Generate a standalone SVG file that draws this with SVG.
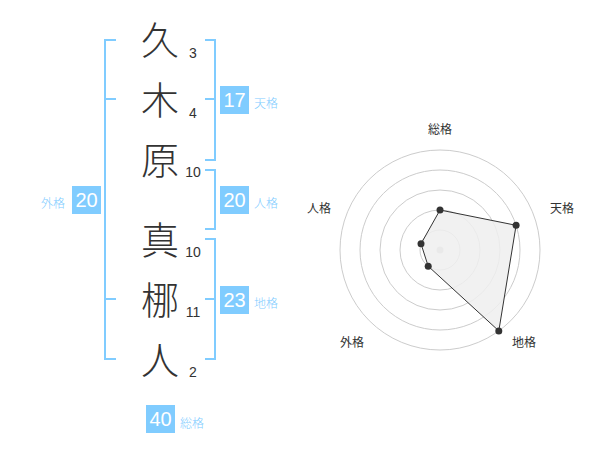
<svg xmlns="http://www.w3.org/2000/svg" width="600" height="470" viewBox="0 0 600 470">
<style>
.ch{font-family:"Noto Sans CJK JP",sans-serif;font-size:38px;font-weight:300;fill:#333;text-anchor:middle}
.st{font-family:"Liberation Sans",Arial,sans-serif;font-size:14px;fill:#333;text-anchor:middle}
.br{fill:none;stroke:#80ccff;stroke-width:2}
.box{fill:#80ccff}
.bn{font-family:"Liberation Sans",Arial,sans-serif;font-size:20px;fill:#fff;text-anchor:middle}
.bl{font-family:"Noto Sans CJK JP",sans-serif;font-size:12px;font-weight:300;fill:#80ccff}
.rl{font-family:"Noto Sans CJK JP",sans-serif;font-size:12px;fill:#333;text-anchor:middle}
.ring{fill:none;stroke:#cccccc;stroke-width:1}
.pt{fill:#333}
</style>
<rect width="600" height="470" fill="#fff"/>
<g id="chars">
<g id="c1"><text class="ch" x="160" y="54">久</text><text class="st" x="193" y="58">3</text></g>
<g id="c2"><text class="ch" x="160" y="114">木</text><text class="st" x="193" y="118">4</text></g>
<g id="c3"><text class="ch" x="160" y="174">原</text><text class="st" x="193" y="177">10</text></g>
<g id="c4"><text class="ch" x="160" y="254">真</text><text class="st" x="193" y="257">10</text></g>
<g id="c5"><text class="ch" x="160" y="314">梛</text><text class="st" x="193" y="317">11</text></g>
<g id="c6"><text class="ch" x="160" y="374">人</text><text class="st" x="193" y="377">2</text></g>
</g>
<g id="connectors">
<path class="br" d="M116,40H105V359H116M105,99H116M105,299H116"/>
<path class="br" d="M205,40H215V160H205M215,99H205"/>
<path class="br" d="M205,170H215V229H205"/>
<path class="br" d="M205,239H215V359H205M215,299H205"/>
</g>
<g id="gaikaku"><rect class="box" x="72" y="186" width="29" height="28"/><text class="bn" x="86.5" y="207">20</text><text class="bl" x="41" y="208">外格</text></g>
<g id="tenkaku"><rect class="box" x="220" y="86" width="29" height="28"/><text class="bn" x="234.5" y="107">17</text><text class="bl" x="254" y="108">天格</text></g>
<g id="jinkaku"><rect class="box" x="220" y="186" width="29" height="28"/><text class="bn" x="234.5" y="207">20</text><text class="bl" x="254" y="208">人格</text></g>
<g id="chikaku"><rect class="box" x="220" y="286" width="29" height="28"/><text class="bn" x="234.5" y="307">23</text><text class="bl" x="254" y="308">地格</text></g>
<g id="soukaku"><rect class="box" x="146" y="405" width="29" height="28"/><text class="bn" x="160.5" y="426">40</text><text class="bl" x="180" y="428">総格</text></g>
<g id="radar">
<circle class="ring" cx="440" cy="250" r="20"/>
<circle class="ring" cx="440" cy="250" r="40"/>
<circle class="ring" cx="440" cy="250" r="60"/>
<circle class="ring" cx="440" cy="250" r="80"/>
<circle class="ring" cx="440" cy="250" r="100"/>
<circle cx="440" cy="250" r="3.5" fill="#c8c8c8"/>
<polygon points="440,210 516.1,225.3 498.8,330.9 428.2,266.2 421,243.8" fill="#eeeeee" fill-opacity="0.85" stroke="#333" stroke-width="1"/>
<circle class="pt" cx="440" cy="210" r="3.5"/>
<circle class="pt" cx="516.1" cy="225.3" r="3.5"/>
<circle class="pt" cx="498.8" cy="330.9" r="3.5"/>
<circle class="pt" cx="428.2" cy="266.2" r="3.5"/>
<circle class="pt" cx="421" cy="243.8" r="3.5"/>
<text class="rl" x="440" y="134">総格</text>
<text class="rl" x="562" y="213">天格</text>
<text class="rl" x="524" y="347">地格</text>
<text class="rl" x="352" y="347">外格</text>
<text class="rl" x="319" y="213">人格</text>
</g>
</svg>
